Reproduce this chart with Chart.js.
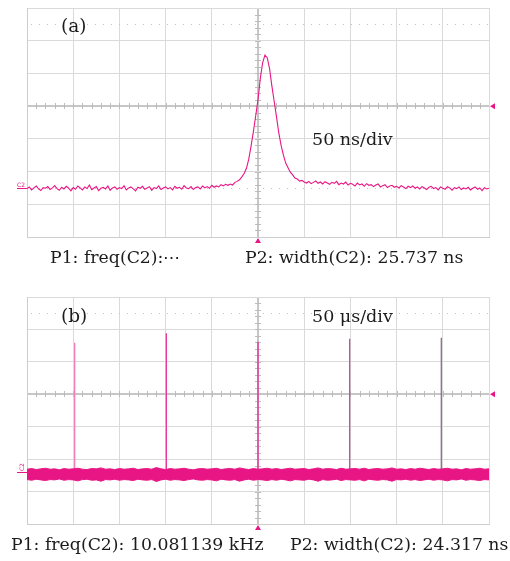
<!DOCTYPE html>
<html>
<head>
<meta charset="utf-8">
<script src="https://cdn.jsdelivr.net/npm/chart.js@4/dist/chart.umd.min.js"></script>
<style>
  html, body { margin: 0; padding: 0; background: #fff; overflow: hidden; }
  #wrap { position: relative; width: 510px; height: 561px; }
  canvas { position: absolute; left: 0; }
  .lbl { position: absolute; white-space: nowrap; font-family: 'DejaVu Serif', serif; color: #1c1c1c; line-height: 1; }
  .big { font-size: 18.5px; }
  .div { font-size: 17.5px; }
  .meas { font-size: 17.3px; }
</style>
</head>
<body>
<div id="wrap">
  <canvas id="scopeA" width="510" height="280" style="top:0"></canvas>
  <canvas id="scopeB" width="510" height="281" style="top:280px"></canvas>

  <div class="lbl big" style="left:61px; top:17px">(a)</div>
  <div class="lbl div" style="left:312px; top:131px">50 ns/div</div>
  <div class="lbl meas" style="left:50px; top:249px">P1: freq(C2):⋯</div>
  <div class="lbl meas" style="left:245px; top:249px">P2: width(C2): 25.737 ns</div>

  <div class="lbl big" style="left:61px; top:307px">(b)</div>
  <div class="lbl div" style="left:312px; top:308px">50 μs/div</div>
  <div class="lbl meas" style="left:11px; top:536px">P1: freq(C2): 10.081139 kHz</div>
  <div class="lbl meas" style="left:290px; top:536px">P2: width(C2): 24.317 ns</div>
</div>

<script>
// ---- (a) single pulse, 50 ns/div, values in vertical divisions ----
const sampleStepNs = 2.5;
const sampleStartNs = -250;

const baselineBefore = [
  -2.52, -2.47, -2.56, -2.50, -2.44, -2.53, -2.58, -2.49, -2.51, -2.46,
  -2.55, -2.50, -2.43, -2.52, -2.57, -2.48, -2.53, -2.45, -2.51, -2.59,
  -2.49, -2.54, -2.44, -2.50, -2.56, -2.47, -2.52, -2.41, -2.55, -2.50,
  -2.46, -2.58, -2.51, -2.48, -2.53, -2.44, -2.57, -2.50, -2.47, -2.54,
  -2.49, -2.52, -2.43, -2.56, -2.50, -2.47, -2.53, -2.59, -2.48, -2.51,
  -2.45, -2.54, -2.50, -2.46, -2.57, -2.49, -2.52, -2.44, -2.55, -2.50,
  -2.47, -2.53, -2.49, -2.56, -2.45, -2.51, -2.48, -2.54, -2.43, -2.50,
  -2.52, -2.46, -2.55, -2.49, -2.47, -2.53, -2.44, -2.50, -2.46, -2.51,
  -2.42, -2.48, -2.44, -2.47, -2.40, -2.44, -2.39, -2.42
];
const pulse = [
  -2.38, -2.41, -2.33, -2.30, -2.25, -2.16, -2.06, -1.90, -1.62, -1.22,
  -0.78, -0.30, 0.20, 0.85, 1.32, 1.56, 1.48, 1.15, 0.62, 0.15,
  -0.32, -0.82, -1.20, -1.50, -1.74, -1.88, -2.02, -2.10, -2.20, -2.23,
  -2.29, -2.27, -2.32
];
const baselineAfter = [
  -2.35, -2.30, -2.37, -2.33, -2.29, -2.36, -2.32, -2.38, -2.31, -2.35,
  -2.39, -2.33, -2.36, -2.30, -2.40, -2.35, -2.38, -2.32, -2.41, -2.36,
  -2.39, -2.44, -2.35, -2.41, -2.38, -2.45, -2.37, -2.42, -2.40, -2.46,
  -2.41, -2.38, -2.47, -2.43, -2.40, -2.49, -2.44, -2.42, -2.48, -2.45,
  -2.50, -2.43, -2.47, -2.52, -2.45, -2.49, -2.44, -2.51, -2.47, -2.53,
  -2.46, -2.50, -2.55, -2.48, -2.45, -2.52, -2.49, -2.56, -2.47, -2.51,
  -2.54, -2.46, -2.50, -2.57, -2.49, -2.52, -2.47, -2.55, -2.50, -2.53,
  -2.48, -2.56, -2.51, -2.47, -2.54, -2.50, -2.58, -2.49, -2.53, -2.51
];

// ---- (b) pulse train, 50 us/div: noise band envelope and pulse peaks ----
const bandStepUs = 5;
const bandStartUs = -250;
const bandTop = [
  -2.31, -2.29, -2.32, -2.30, -2.28, -2.31, -2.30, -2.33, -2.29, -2.31,
  -2.30, -2.28, -2.31, -2.32, -2.29, -2.30, -2.27, -2.31, -2.30, -2.32,
  -2.29, -2.31, -2.30, -2.28, -2.32, -2.30, -2.29, -2.31, -2.26, -2.30,
  -2.32, -2.29, -2.31, -2.30, -2.28, -2.31, -2.33, -2.30, -2.29, -2.31,
  -2.30, -2.28, -2.32, -2.30, -2.29, -2.31, -2.27, -2.30, -2.32, -2.29,
  -2.31, -2.30, -2.28, -2.31, -2.29, -2.32, -2.30, -2.28, -2.31, -2.30,
  -2.29, -2.32, -2.30, -2.27, -2.31, -2.29, -2.30, -2.32, -2.28, -2.31,
  -2.30, -2.29, -2.31, -2.28, -2.32, -2.30, -2.29, -2.31, -2.30, -2.27,
  -2.31, -2.30, -2.32, -2.29, -2.31, -2.28, -2.30, -2.32, -2.29, -2.31,
  -2.30, -2.28, -2.31, -2.30, -2.33, -2.29, -2.31, -2.30, -2.28, -2.31,
  -2.30
];
const bandBottom = [
  -2.63, -2.65, -2.62, -2.64, -2.66, -2.63, -2.64, -2.61, -2.65, -2.63,
  -2.64, -2.67, -2.63, -2.62, -2.65, -2.64, -2.68, -2.63, -2.64, -2.62,
  -2.65, -2.63, -2.64, -2.66, -2.62, -2.64, -2.65, -2.63, -2.69, -2.64,
  -2.62, -2.65, -2.63, -2.64, -2.66, -2.63, -2.61, -2.64, -2.65, -2.63,
  -2.64, -2.67, -2.62, -2.64, -2.65, -2.63, -2.68, -2.64, -2.62, -2.65,
  -2.63, -2.64, -2.66, -2.63, -2.65, -2.62, -2.64, -2.67, -2.63, -2.64,
  -2.65, -2.62, -2.64, -2.68, -2.63, -2.65, -2.64, -2.62, -2.66, -2.63,
  -2.64, -2.65, -2.63, -2.67, -2.62, -2.64, -2.65, -2.63, -2.64, -2.68,
  -2.63, -2.64, -2.62, -2.65, -2.63, -2.66, -2.64, -2.62, -2.65, -2.63,
  -2.64, -2.67, -2.63, -2.64, -2.61, -2.65, -2.63, -2.64, -2.66, -2.63,
  -2.64
];
const spikeTimes = [-198.4, -99.2, 0, 99.2, 198.4];
const spikePeaks = [1.59, 1.88, 1.62, 1.71, 1.74];
const spikeBase = -2.45;

const traceColor = 'rgb(232, 22, 132)';
const spikeColors = ['#f27cba', '#e8359a', '#e8258f', '#b45c92', '#8e6e86'];

function toPoints(values, start, step) {
  return values.map((v, i) => ({ x: start + i * step, y: v }));
}

// dotted levels, minor ticks and trigger / channel markers
const scopeMarks = {
  id: 'scopeMarks',
  beforeDatasetsDraw(chart, args, opts) {
    const { ctx, chartArea: a, scales: { x, y } } = chart;
    ctx.save();
    ctx.lineWidth = 1;
    ctx.strokeStyle = '#c2c2c2';
    ctx.setLineDash([1, 7]);
    for (const lv of [2.5, -2.5]) {
      const py = Math.round(y.getPixelForValue(lv)) + 0.5;
      ctx.beginPath(); ctx.moveTo(a.left + 4, py); ctx.lineTo(a.right, py); ctx.stroke();
    }
    ctx.setLineDash([]);
    ctx.strokeStyle = '#bcbcbc';
    const cx = Math.round(x.getPixelForValue(0));
    const cy = Math.round(y.getPixelForValue(0));
    const xMinor = opts.xDiv / 5;
    for (let v = x.min + xMinor; v < x.max; v += xMinor) {
      const px = Math.round(x.getPixelForValue(v)) + 0.5;
      ctx.beginPath(); ctx.moveTo(px, cy - 3); ctx.lineTo(px, cy + 3); ctx.stroke();
    }
    for (let v = y.min + 0.2; v < y.max; v += 0.2) {
      const py = Math.round(y.getPixelForValue(v)) + 0.5;
      ctx.beginPath(); ctx.moveTo(cx - 3, py); ctx.lineTo(cx + 3, py); ctx.stroke();
    }
    ctx.restore();
  },
  afterDraw(chart, args, opts) {
    const { ctx, chartArea: a, scales: { x, y } } = chart;
    const cx = x.getPixelForValue(0);
    const cy = y.getPixelForValue(0);
    ctx.save();
    ctx.fillStyle = traceColor;
    ctx.strokeStyle = traceColor;
    // trigger level (right edge) and trigger time (bottom edge)
    ctx.beginPath();
    ctx.moveTo(a.right + 1, cy); ctx.lineTo(a.right + 6, cy - 3); ctx.lineTo(a.right + 6, cy + 3);
    ctx.closePath(); ctx.fill();
    ctx.beginPath();
    ctx.moveTo(cx, a.bottom + 1); ctx.lineTo(cx - 3, a.bottom + 6); ctx.lineTo(cx + 3, a.bottom + 6);
    ctx.closePath(); ctx.fill();
    // channel offset tag
    const gy = y.getPixelForValue(opts.channelLevel);
    ctx.lineWidth = 1;
    ctx.beginPath(); ctx.moveTo(a.left - 10, Math.round(gy) + 0.5); ctx.lineTo(a.left, Math.round(gy) + 0.5); ctx.stroke();
    ctx.font = '6px "DejaVu Sans"';
    if (opts.tagVertical) {
      ctx.translate(a.left - 3, gy - 1);
      ctx.rotate(-Math.PI / 2);
      ctx.fillText('C2', 0, 0);
    } else {
      ctx.fillText('C2', a.left - 10, gy - 1);
    }
    ctx.restore();
  }
};

function scopeScales(xMin, xMax, xDiv) {
  const grid = {
    color: c => (c.tick && c.tick.value === 0) ? '#c6c6c6' : '#dadada',
    lineWidth: c => (c.tick && c.tick.value === 0) ? 2 : 1,
    drawTicks: false
  };
  return {
    x: {
      type: 'linear', min: xMin, max: xMax,
      ticks: { display: false, stepSize: xDiv },
      grid: grid, border: { color: '#cdcdcd' }
    },
    y: {
      type: 'linear', min: -4, max: 3,
      ticks: { display: false, stepSize: 1 },
      grid: grid, border: { color: '#cdcdcd' }
    }
  };
}

new Chart(document.getElementById('scopeA'), {
  type: 'line',
  data: {
    datasets: [{
      data: toPoints(baselineBefore.concat(pulse, baselineAfter), sampleStartNs, sampleStepNs),
      borderColor: traceColor,
      borderWidth: 1.1,
      pointRadius: 0,
      tension: 0
    }]
  },
  options: {
    responsive: false,
    animation: false,
    layout: { padding: { left: 27, right: 21, top: 8, bottom: 43 } },
    scales: scopeScales(-250, 250, 50),
    plugins: {
      legend: { display: false },
      tooltip: { enabled: false },
      scopeMarks: { xDiv: 50, channelLevel: -2.5, tagVertical: false }
    }
  },
  plugins: [scopeMarks]
});

const spikeSets = spikeTimes.map((t, i) => ({
  data: [{ x: t, y: spikeBase }, { x: t, y: spikePeaks[i] }],
  borderColor: spikeColors[i],
  borderWidth: 1.3,
  pointRadius: 0,
  fill: false
}));

new Chart(document.getElementById('scopeB'), {
  type: 'line',
  data: {
    datasets: [
      {
        data: toPoints(bandTop, bandStartUs, bandStepUs),
        borderColor: traceColor,
        backgroundColor: traceColor,
        borderWidth: 1,
        pointRadius: 0,
        fill: '+1'
      },
      {
        data: toPoints(bandBottom, bandStartUs, bandStepUs),
        borderColor: traceColor,
        borderWidth: 1,
        pointRadius: 0,
        fill: false
      }
    ].concat(spikeSets)
  },
  options: {
    responsive: false,
    animation: false,
    layout: { padding: { left: 27, right: 21, top: 17, bottom: 37 } },
    scales: scopeScales(-250, 250, 50),
    plugins: {
      legend: { display: false },
      tooltip: { enabled: false },
      scopeMarks: { xDiv: 50, channelLevel: -2.4, tagVertical: true }
    }
  },
  plugins: [scopeMarks]
});
</script>
</body>
</html>
